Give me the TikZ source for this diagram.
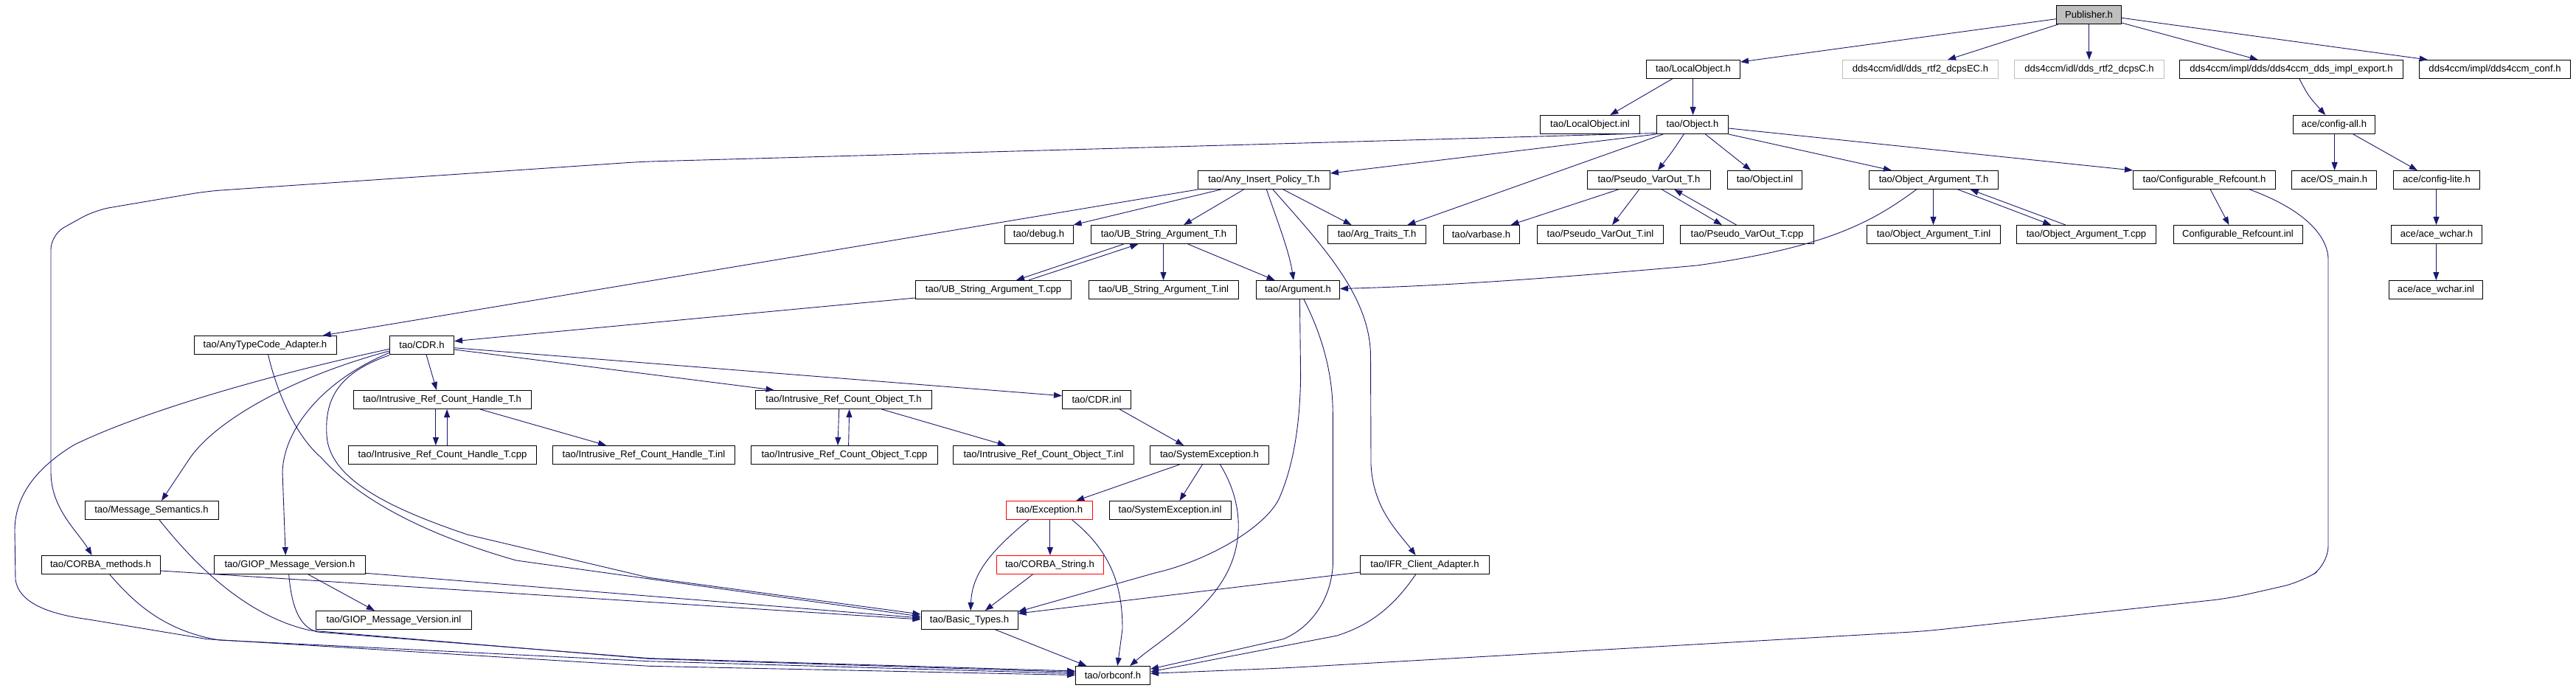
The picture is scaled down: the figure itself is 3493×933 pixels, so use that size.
\documentclass[tikz,border=0pt]{standalone}
\usepackage{fontspec}
\setmainfont{Liberation Sans}
\usetikzlibrary{arrows.meta}
\definecolor{edgeblue}{HTML}{191970}
\definecolor{greyfill}{HTML}{BFBFBF}
\begin{document}
\begin{tikzpicture}[x=1pt,y=-1pt,
  box/.style={draw=black, line width=1pt, fill=white, inner sep=0pt, minimum height=25pt, font=\fontsize{13.1}{15}\selectfont, anchor=center},
  greybox/.style={box, draw=greyfill},
  redbox/.style={box, draw=red},
  edge/.style={draw=edgeblue, line width=0.9pt, -{Triangle[length=11pt,width=8pt]}},
]
\useasboundingbox[fill=white] (0,0) rectangle (3493,933);
% row 0
\node[box, fill=greyfill, minimum width=88pt] (pub) at (2832.5,20) {Publisher.h};
% row 1
\node[box, minimum width=127pt] (lo) at (2296,94) {tao/LocalObject.h};
\node[greybox, minimum width=211pt] (ec) at (2604,94) {dds4ccm/idl/dds\_rtf2\_dcpsEC.h};
\node[greybox, minimum width=203pt] (dc) at (2833,94) {dds4ccm/idl/dds\_rtf2\_dcpsC.h};
\node[box, minimum width=303pt] (ie) at (3107,94) {dds4ccm/impl/dds/dds4ccm\_dds\_impl\_export.h};
\node[box, minimum width=205pt] (conf) at (3383,94) {dds4ccm/impl/dds4ccm\_conf.h};
% row 2
\node[box, minimum width=135pt] (loinl) at (2156,169) {tao/LocalObject.inl};
\node[box, minimum width=97pt] (obj) at (2295,169) {tao/Object.h};
\node[box, minimum width=111pt] (cfgall) at (3165,169) {ace/config-all.h};
% row 3
\node[box, minimum width=179pt] (aip) at (1714,244) {tao/Any\_Insert\_Policy\_T.h};
\node[box, minimum width=167pt] (pvo) at (2236,244) {tao/Pseudo\_VarOut\_T.h};
\node[box, minimum width=101pt] (objinl) at (2393,244) {tao/Object.inl};
\node[box, minimum width=175pt] (oat) at (2622,244) {tao/Object\_Argument\_T.h};
\node[box, minimum width=193pt] (cfr) at (2989,244) {tao/Configurable\_Refcount.h};
\node[box, minimum width=115pt] (osmain) at (3165,244) {ace/OS\_main.h};
\node[box, minimum width=117pt] (cfglite) at (3304,244) {ace/config-lite.h};
% row 4
\node[box, minimum width=93pt] (dbg) at (1408.5,318) {tao/debug.h};
\node[box, minimum width=197pt] (ubs) at (1578,318) {tao/UB\_String\_Argument\_T.h};
\node[box, minimum width=133pt] (argtr) at (1867,318) {tao/Arg\_Traits\_T.h};
\node[box, minimum width=103pt] (varbase) at (2008.5,318) {tao/varbase.h};
\node[box, minimum width=171pt] (pvoinl) at (2170,318) {tao/Pseudo\_VarOut\_T.inl};
\node[box, minimum width=181pt] (pvocpp) at (2369,318) {tao/Pseudo\_VarOut\_T.cpp};
\node[box, minimum width=181pt] (oatinl) at (2622,318) {tao/Object\_Argument\_T.inl};
\node[box, minimum width=189pt] (oatcpp) at (2829,318) {tao/Object\_Argument\_T.cpp};
\node[box, minimum width=175pt] (cfrinl) at (3034.5,318) {Configurable\_Refcount.inl};
\node[box, minimum width=123pt] (wchar) at (3304,318) {ace/ace\_wchar.h};
% row 5
\node[box, minimum width=211pt] (ubscpp) at (1347,393) {tao/UB\_String\_Argument\_T.cpp};
\node[box, minimum width=203pt] (ubsinl) at (1578,393) {tao/UB\_String\_Argument\_T.inl};
\node[box, minimum width=113pt] (argh) at (1760,393) {tao/Argument.h};
\node[box, minimum width=127pt] (wcharinl) at (3303,393) {ace/ace\_wchar.inl};
% row 6
\node[box, minimum width=193pt] (atc) at (359.5,468) {tao/AnyTypeCode\_Adapter.h};
\node[box, minimum width=87pt] (cdr) at (572,468) {tao/CDR.h};
% row 7
\node[box, minimum width=241pt] (irch) at (599.5,542) {tao/Intrusive\_Ref\_Count\_Handle\_T.h};
\node[box, minimum width=239pt] (irco) at (1144,542) {tao/Intrusive\_Ref\_Count\_Object\_T.h};
\node[box, minimum width=93pt] (cdrinl) at (1487,542) {tao/CDR.inl};
% row 8
\node[box, minimum width=255pt] (irchcpp) at (600,617) {tao/Intrusive\_Ref\_Count\_Handle\_T.cpp};
\node[box, minimum width=247pt] (irchinl) at (873,617) {tao/Intrusive\_Ref\_Count\_Handle\_T.inl};
\node[box, minimum width=253pt] (irocpp) at (1145,617) {tao/Intrusive\_Ref\_Count\_Object\_T.cpp};
\node[box, minimum width=245pt] (iroinl) at (1415,617) {tao/Intrusive\_Ref\_Count\_Object\_T.inl};
\node[box, minimum width=161pt] (sysexc) at (1640,617) {tao/SystemException.h};
% row 9
\node[box, minimum width=181pt] (msgsem) at (205.5,692) {tao/Message\_Semantics.h};
\node[redbox, minimum width=117pt] (exc) at (1423,692) {tao/Exception.h};
\node[box, minimum width=165pt] (sysinl) at (1586.5,692) {tao/SystemException.inl};
% row 10
\node[box, minimum width=161pt] (corbam) at (136.5,766) {tao/CORBA\_methods.h};
\node[box, minimum width=205pt] (giop) at (393,766) {tao/GIOP\_Message\_Version.h};
\node[redbox, minimum width=145pt] (cstr) at (1423.5,766) {tao/CORBA\_String.h};
\node[box, minimum width=175pt] (ifr) at (1932,766) {tao/IFR\_Client\_Adapter.h};
% row 11
\node[box, minimum width=211pt] (giopinl) at (534,841) {tao/GIOP\_Message\_Version.inl};
\node[box, minimum width=131pt] (basic) at (1314.5,841) {tao/Basic\_Types.h};
% row 12
\node[box, minimum width=101pt] (orbconf) at (1509,916) {tao/orbconf.h};

% ---- edges ----
% Publisher.h
\draw[edge] (pub.west |- 0,25.7) -- (lo.east |- 0,84);
\draw[edge] (pub.south -| 2791,0) -- (ec.north -| 2641,0);
\draw[edge] (pub.south -| 2832.8,0) -- (dc.north -| 2832.8,0);
\draw[edge] (pub.east |- 0,31) -- (ie.north -| 3061.7,0);
\draw[edge] (pub.east |- 0,24.3) -- (conf.north -| 3291.8,0);
% LocalObject.h
\draw[edge] (lo.south -| 2267.5,0) -- (loinl.north -| 2183.3,0);
\draw[edge] (lo.south -| 2295.6,0) -- (obj.north -| 2295.6,0);
% ace chain
\draw[edge] (ie.south -| 3117.9,0) .. controls (3130,130) .. (cfgall.north -| 3153.2,0);
\draw[edge] (cfgall.south -| 3165.6,0) -- (osmain.north -| 3165.6,0);
\draw[edge] (cfgall.south -| 3190.8,0) -- (cfglite.north -| 3277.8,0);
\draw[edge] (cfglite.south -| 3303.5,0) -- (wchar.north -| 3303.5,0);
\draw[edge] (wchar.south -| 3303.3,0) -- (wcharinl.north -| 3303.3,0);
% Object.h
\draw[edge] (obj.south west) -- (aip.east |- 0,235);
\draw[edge, rounded corners=20pt] ([yshift=1.5pt]obj.south west) -- (870,219.3) -- (280.6,259.3) -- (129,285) -- (69,318.3) -- (69,620) .. controls (69,690) and (105,720) .. (corbam.north -| 124.6,0);
\draw[edge] (obj.south -| 2255.2,0) -- (argtr.north -| 1908.4,0);
\draw[edge] (obj.south -| 2283.2,0) .. controls (2268,205) .. (pvo.north -| 2247.9,0);
\draw[edge] (obj.south -| 2312.4,0) -- (objinl.north -| 2374.1,0);
\draw[edge] (obj.south east) -- (oat.north -| 2564.9,0);
\draw[edge] (obj.east |- 0,174) -- (cfr.north west);
% Any_Insert_Policy_T.h
\draw[edge] (aip.south west) -- (atc.north -| 437.7,0);
\draw[edge] (aip.south -| 1655.6,0) -- (dbg.north east);
\draw[edge] (aip.south -| 1686.5,0) -- (ubs.north -| 1605.1,0);
\draw[edge] (aip.south -| 1740,0) -- (argtr.north -| 1832.6,0);
\draw[edge] (aip.south -| 1717.4,0) .. controls (1732,300) and (1748,340) .. (argh.north -| 1754,0);
\draw[edge] (aip.south -| 1726,0) .. controls (1790,330) and (1858,400) .. (1858.5,483) -- (1859,630) .. controls (1862,690) and (1895,720) .. (ifr.north -| 1919.6,0);
% UB_String_Argument_T
\draw[edge] (ubs.south -| 1523.8,0) -- (ubscpp.north -| 1377.9,0);
\draw[edge] (ubscpp.north -| 1394.7,0) -- (ubs.south -| 1543.4,0);
\draw[edge] (ubs.south -| 1577.5,0) -- (ubsinl.north -| 1577.5,0);
\draw[edge] (ubs.south -| 1610.7,0) -- (argh.north -| 1728.6,0);
\draw[edge] (ubscpp.west |- 0,404) -- (cdr.east |- 0,462.7);
% Pseudo_VarOut_T
\draw[edge] (pvo.south -| 2194.5,0) -- (varbase.north -| 2048.6,0);
\draw[edge] (pvo.south -| 2222.6,0) -- (pvoinl.north -| 2186.1,0);
\draw[edge] (pvo.south -| 2253.5,0) -- (pvocpp.north -| 2334.8,0);
\draw[edge] (pvocpp.north -| 2354.5,0) -- (pvo.south -| 2270.3,0);
% Object_Argument_T
\draw[edge] (oat.south -| 2621.5,0) -- (oatinl.north -| 2621.5,0);
\draw[edge] (oat.south -| 2654.9,0) -- (oatcpp.north -| 2781.2,0);
\draw[edge] (oatcpp.north -| 2800.8,0) -- (oat.south -| 2671.7,0);
\draw[edge] (oat.south -| 2598.6,0) .. controls (2540,300) and (2480,335) .. (2301,360) .. controls (2100,378) and (1950,388) .. (argh.east |- 0,391.5);
% Configurable_Refcount
\draw[edge] (cfr.south -| 2997.2,0) -- (cfrinl.north -| 3022.5,0);
\draw[edge, rounded corners=25pt] (cfr.south -| 3050.5,0) .. controls (3140,290) and (3157,330) .. (3157,376.7) -- (3157,765.7) -- (3120.7,789.3) -- (3023.6,811.3) -- (2610,856) -- (1740,906) -- (orbconf.east |- 0,913.3);
% Argument.h
\draw[edge] (argh.south -| 1762.4,0) -- (1763.6,510) .. controls (1763,570) and (1755,630) .. (1734,677) .. controls (1715,715) and (1640,760) .. (1566,777) -- (basic.east |- 0,829.5);
\draw[edge] (argh.south -| 1768,0) .. controls (1790,450) and (1807,500) .. (1807.3,560) -- (1807.3,766.7) .. controls (1805,810) and (1780,850) .. (1740,866.7) -- (orbconf.east |- 0,907.3);
% IFR_Client_Adapter.h
\draw[edge] (ifr.west |- 0,776) -- (basic.east |- 0,832);
\draw[edge] (ifr.south -| 1919.6,0) .. controls (1885,830) and (1850,850) .. (1813,862) -- (orbconf.east |- 0,911);
% AnyTypeCode_Adapter.h
\draw[edge] (atc.south -| 363.6,0) .. controls (375,530) and (400,590) .. (435,620) .. controls (480,670) and (560,720) .. (700,760) -- (basic.west |- 0,836);
% CDR.h
\draw[edge] (cdr.south -| 578,0) -- (irch.north -| 592,0);
\draw[edge] (cdr.east |- 0,474) -- (irco.north -| 1049.6,0);
\draw[edge] (cdr.east |- 0,471.7) -- (cdrinl.west |- 0,536.7);
\draw[edge] (cdr.west |- 0,473.3) .. controls (380,505) and (200,555) .. (101,603) .. controls (40,640) and (20,680) .. (20,720) -- (21,786) .. controls (25,815) and (60,832) .. (120,840) -- (280.6,866.7) -- (880,903.3) -- (orbconf.west |- 0,915.5);
\draw[edge] (cdr.west |- 0,476) .. controls (400,510) and (290,570) .. (255,625) -- (msgsem.north -| 219,0);
\draw[edge] (cdr.west |- 0,478.3) .. controls (440,515) and (385,580) .. (383,640) -- (giop.north -| 387.2,0);
\draw[edge] (cdr.west |- 0,481.7) .. controls (460,505) and (440,540) .. (443,590) .. controls (446,650) and (530,690) .. (634,725) -- (880,783.3) -- (basic.west |- 0,833);
% CORBA_methods / Message_Semantics / GIOP
\draw[edge] (corbam.east |- 0,774) -- (basic.west |- 0,840);
\draw[edge] (giop.east |- 0,777.3) -- (basic.west |- 0,838);
\draw[edge] (corbam.south -| 148.7,0) .. controls (180,815) and (220,855) .. (297,868) -- (880,896.7) -- (orbconf.west |- 0,913.5);
\draw[edge] (msgsem.south -| 216,0) .. controls (260,760) and (330,835) .. (421,855) -- (880,893.3) -- (orbconf.west |- 0,911.5);
\draw[edge] (giop.south -| 391.7,0) .. controls (395,820) and (405,850) .. (430,857) -- (880,892.7) -- (orbconf.west |- 0,910);
\draw[edge] (giop.south -| 418,0) -- (giopinl.north -| 507.9,0);
% Intrusive_Ref_Count
\draw[edge] (irch.south -| 590.9,0) -- (irchcpp.north -| 590.9,0);
\draw[edge] (irchcpp.north -| 606.1,0) -- (irch.south -| 606.1,0);
\draw[edge] (irch.south -| 651,0) -- (irchinl.north -| 822.1,0);
\draw[edge] (irco.south -| 1137.7,0) -- (irocpp.north -| 1136,0);
\draw[edge] (irocpp.north -| 1150.6,0) -- (irco.south -| 1151.7,0);
\draw[edge] (irco.south -| 1195.5,0) -- (iroinl.north -| 1363.8,0);
% CDR.inl / SystemException
\draw[edge] (cdrinl.south -| 1518.2,0) -- (sysexc.north -| 1605.1,0);
\draw[edge] (sysexc.south -| 1599.5,0) -- (exc.north -| 1459.2,0);
\draw[edge] (sysexc.south -| 1630.4,0) -- (sysinl.north -| 1599.5,0);
\draw[edge] (sysexc.south -| 1654.5,0) .. controls (1685,680) and (1685,730) .. (1667,770) .. controls (1640,830) and (1570,870) .. (orbconf.north -| 1532.2,0);
% Exception / CORBA_String / Basic_Types
\draw[edge] (exc.south -| 1394.7,0) .. controls (1340,750) and (1318,780) .. (basic.north -| 1316.1,0);
\draw[edge] (exc.south -| 1423.9,0) -- (cstr.north -| 1423.9,0);
\draw[edge] (exc.south -| 1453.6,0) .. controls (1510,750) and (1522,800) .. (1522,853) -- (orbconf.north -| 1515.3,0);
\draw[edge] (cstr.south -| 1400.3,0) -- (basic.north -| 1335.8,0);
\draw[edge] (basic.south -| 1349.8,0) -- (orbconf.north -| 1473.3,0);
\end{tikzpicture}
\end{document}
